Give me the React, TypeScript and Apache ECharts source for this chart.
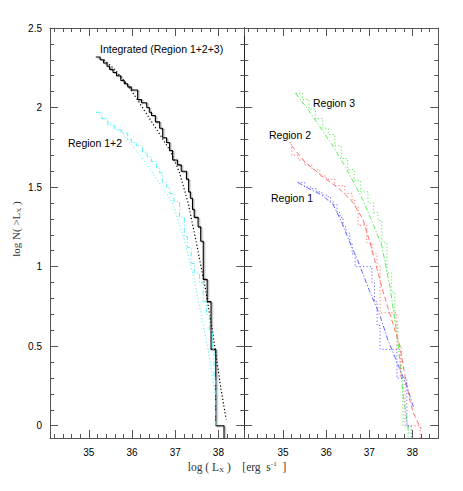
import React, { useEffect, useRef } from 'react';
import * as echarts from 'echarts';

// ---------- data (log L_X, log N(>L_X)) ----------
// Left panel: integrated (Region 1+2+3) cumulative distribution (step) and its fit
const intStepX = [35.16, 35.26, 35.34, 35.42, 35.48, 35.56, 35.64, 35.74, 35.82, 35.90, 35.98, 36.13, 36.22, 36.34, 36.40, 36.45, 36.54, 36.64, 36.71, 36.80, 36.87, 36.94, 37.05, 37.14, 37.26, 37.31, 37.35, 37.40, 37.44, 37.53, 37.59, 37.65, 37.74, 37.83, 37.94, 38.13];
const intStepY = [2.318, 2.30, 2.28, 2.26, 2.24, 2.22, 2.20, 2.17, 2.15, 2.13, 2.11, 2.05, 2.03, 2.00, 1.97, 1.95, 1.91, 1.87, 1.81, 1.78, 1.73, 1.67, 1.64, 1.60, 1.55, 1.47, 1.43, 1.36, 1.31, 1.25, 1.16, 0.92, 0.78, 0.48, 0.00, -1];
const intFitX = [35.35, 35.6, 35.9, 36.1, 36.36, 36.6, 36.9, 37.1, 37.3, 37.49, 37.7, 37.86, 38.06, 38.18];
const intFitY = [2.30, 2.24, 2.14, 2.06, 1.95, 1.85, 1.72, 1.59, 1.40, 1.15, 0.86, 0.60, 0.23, 0.04];

// Left panel: Region 1+2
const r12StepX = [35.16, 35.30, 35.44, 35.60, 35.76, 35.90, 35.99, 36.10, 36.24, 36.35, 36.45, 36.57, 36.64, 36.70, 36.80, 36.87, 36.97, 37.10, 37.21, 37.28, 37.37, 37.44, 37.56, 37.65, 37.72, 37.79, 37.86, 37.90, 37.94];
const r12StepY = [1.97, 1.93, 1.89, 1.86, 1.84, 1.80, 1.78, 1.76, 1.72, 1.69, 1.66, 1.62, 1.59, 1.53, 1.50, 1.46, 1.41, 1.31, 1.19, 1.12, 1.02, 0.96, 0.90, 0.78, 0.70, 0.60, 0.48, 0.30, 0.00];
const r12FitX = [35.18, 35.5, 35.8, 36.1, 36.4, 36.7, 36.94, 37.21, 37.44, 37.6, 37.75, 37.86, 37.92];
const r12FitY = [1.97, 1.90, 1.83, 1.73, 1.62, 1.50, 1.40, 1.17, 0.92, 0.70, 0.50, 0.31, 0.20];

// Right panel: Region 3
const r3StepX = [35.29, 35.45, 35.60, 35.75, 35.92, 36.05, 36.20, 36.35, 36.50, 36.65, 36.80, 36.97, 37.10, 37.20, 37.29, 37.41, 37.52, 37.59, 37.66, 37.75, 37.78, 37.90];
const r3StepY = [2.09, 2.05, 1.99, 1.93, 1.87, 1.83, 1.76, 1.68, 1.61, 1.54, 1.47, 1.40, 1.34, 1.29, 1.15, 0.96, 0.84, 0.65, 0.50, 0.30, 0.00, -1];
const r3FitX = [35.29, 35.6, 35.9, 36.2, 36.5, 36.85, 37.1, 37.29, 37.48, 37.66, 37.78, 37.92];
const r3FitY = [2.09, 1.98, 1.86, 1.74, 1.60, 1.42, 1.26, 1.13, 0.87, 0.54, 0.20, -0.05];

// Right panel: Region 2
const r2StepX = [35.15, 35.20, 35.35, 35.50, 35.67, 35.85, 36.00, 36.20, 36.43, 36.60, 36.66, 36.74, 36.94, 37.06, 37.18, 37.25, 37.64, 37.72, 37.83, 38.18];
const r2StepY = [1.78, 1.70, 1.67, 1.64, 1.61, 1.57, 1.55, 1.51, 1.46, 1.42, 1.38, 1.26, 1.15, 1.08, 1.00, 0.71, 0.48, 0.30, 0.00, -1];
const r2FitX = [35.2, 35.5, 35.9, 36.3, 36.6, 36.85, 37.06, 37.29, 37.48, 37.71, 37.83, 37.94, 38.02, 38.2];
const r2FitY = [1.76, 1.66, 1.57, 1.49, 1.41, 1.30, 1.11, 0.87, 0.70, 0.50, 0.31, 0.16, 0.08, -0.02];

// Right panel: Region 1
const r1StepX = [35.34, 35.50, 35.65, 35.78, 35.90, 36.01, 36.10, 36.16, 36.25, 36.32, 36.39, 36.46, 36.55, 36.60, 36.67, 37.06, 37.12, 37.18, 37.25, 37.64, 37.87, 37.97];
const r1StepY = [1.53, 1.50, 1.49, 1.47, 1.45, 1.44, 1.41, 1.39, 1.34, 1.31, 1.25, 1.21, 1.15, 1.08, 1.00, 0.90, 0.78, 0.63, 0.48, 0.30, 0.00, -1];
const r1FitX = [35.34, 35.6, 35.9, 36.16, 36.36, 36.55, 36.73, 37.0, 37.25, 37.43, 37.64, 37.87, 38.02];
const r1FitY = [1.53, 1.49, 1.45, 1.39, 1.28, 1.15, 1.04, 0.85, 0.69, 0.54, 0.40, 0.25, 0.12];

const xLimits = [34.1, 38.6];
const yLimits = [-0.077, 2.5];

const zip = (xs: number[], ys: number[]) => xs.map((x, i) => [x, ys[i]]);

const SANS = '"Liberation Sans", Arial, Helvetica, sans-serif';
const SERIF = '"Liberation Serif", "DejaVu Serif", "Times New Roman", serif';
const AXIS = '#555';

function makeX(gridIndex: number, position: string, labels: boolean) {
  return {
    type: 'value',
    gridIndex,
    position,
    min: xLimits[0],
    max: xLimits[1],
    splitNumber: 5,
    minInterval: 1,
    maxInterval: 1,
    axisLine: { show: true, onZero: false, lineStyle: { color: AXIS, width: 1 } },
    axisTick: { show: true, inside: true, length: 8, lineStyle: { color: AXIS, width: 1 } },
    minorTick: { show: true, splitNumber: 5, length: 4, lineStyle: { color: AXIS, width: 1 } },
    splitLine: { show: false },
    minorSplitLine: { show: false },
    axisLabel: {
      show: labels,
      margin: 9,
      color: '#000',
      fontSize: 10,
      fontFamily: SANS,
      formatter: (v: number) => (Math.abs(v - Math.round(v)) < 1e-6 ? String(Math.round(v)) : ''),
    },
  };
}

function makeY(gridIndex: number, position: string, labels: boolean, lineColor = AXIS) {
  return {
    type: 'value',
    gridIndex,
    position,
    min: yLimits[0],
    max: yLimits[1],
    splitNumber: 5,
    minInterval: 0.5,
    maxInterval: 0.5,
    axisLine: { show: true, onZero: false, lineStyle: { color: lineColor, width: 1 } },
    axisTick: { show: true, inside: true, length: 8, lineStyle: { color: AXIS, width: 1 } },
    minorTick: { show: true, splitNumber: 5, length: 4, lineStyle: { color: AXIS, width: 1 } },
    splitLine: { show: false },
    minorSplitLine: { show: false },
    axisLabel: {
      show: labels,
      margin: 8,
      color: '#000',
      fontSize: 10,
      fontFamily: SANS,
      formatter: (v: number) =>
        Math.abs(v * 2 - Math.round(v * 2)) < 1e-6 ? String(Math.round(v * 2) / 2) : '',
    },
  };
}

function line(name: string, data: number[][], axis: number, color: string, type: any, width: number, step: any, extra: any = {}) {
  return {
    name,
    type: 'line',
    xAxisIndex: axis,
    yAxisIndex: axis,
    data,
    step,
    symbol: 'none',
    clip: true,
    silent: true,
    lineStyle: { color, width, type, ...extra },
  };
}

const DOT = [1.2, 2.2];
const DASHDOT = [5, 2, 1.2, 2];
const DASH = [5, 3];

const CYAN = '#55f2fa';
const GREEN = '#55ee55';
const RED = '#ff7272';
const BLUE = '#6464ff';

export default function App() {
  const ref = useRef<HTMLDivElement>(null);
  useEffect(() => {
    if (!ref.current) return;
    const chart = echarts.init(ref.current, undefined, { renderer: 'svg' });
    const textStyle = (text: string, x: number, y: number) => ({
      type: 'text',
      x,
      y,
      style: { text, fill: '#000', font: `10.5px ${SANS}`, align: 'left', verticalAlign: 'middle' },
    });
    chart.setOption({
      animation: false,
      backgroundColor: '#fff',
      grid: [
        { left: 50, top: 28, width: 194.3, height: 410, show: false },
        { left: 244.3, top: 28, width: 194, height: 410, show: false },
      ],
      xAxis: [makeX(0, 'bottom', true), makeX(0, 'top', false), makeX(1, 'bottom', true), makeX(1, 'top', false)],
      yAxis: [makeY(0, 'left', true), makeY(0, 'right', false, '#222'), makeY(1, 'left', false, '#222'), makeY(1, 'right', false)],
      series: [
        line('Integrated', zip(intStepX, intStepY), 0, '#000', 'solid', 1.1, 'end', {
          shadowColor: 'rgba(0,0,0,0.35)', shadowBlur: 0.5, shadowOffsetX: 1.3, shadowOffsetY: 1,
        }),
        line('Integrated fit', zip(intFitX, intFitY), 0, '#000', DOT, 1.2, false),
        line('Region 1+2', zip(r12StepX, r12StepY), 0, CYAN, DASHDOT, 1, 'end'),
        line('Region 1+2 fit', zip(r12FitX, r12FitY), 0, CYAN, DOT, 1, false),
        line('Region 3', zip(r3StepX, r3StepY), 2, GREEN, DOT, 1, 'end'),
        line('Region 3 fit', zip(r3FitX, r3FitY), 2, GREEN, DASHDOT, 1, false),
        line('Region 2', zip(r2StepX, r2StepY), 2, RED, DOT, 1, 'end'),
        line('Region 2 fit', zip(r2FitX, r2FitY), 2, RED, DASH, 1, false),
        line('Region 1', zip(r1StepX, r1StepY), 2, BLUE, DOT, 1, 'end'),
        line('Region 1 fit', zip(r1FitX, r1FitY), 2, BLUE, DASHDOT, 1, false),
      ],
      graphic: [
        textStyle('Integrated (Region 1+2+3)', 100, 49),
        textStyle('Region 1+2', 68, 143),
        textStyle('Region 3', 313, 103),
        textStyle('Region 2', 269, 135),
        textStyle('Region 1', 271, 198),
        {
          type: 'text',
          x: 16,
          y: 229,
          rotation: Math.PI / 2,
          style: {
            text: '{a|log N( >L}{b|X}{a| )}',
            align: 'center',
            verticalAlign: 'middle',
            rich: {
              a: { fontFamily: SERIF, fontSize: 11, fill: '#333', lineHeight: 13 },
              b: { fontFamily: SERIF, fontSize: 7, fill: '#333', verticalAlign: 'bottom', lineHeight: 8 },
            },
          },
        },
        {
          type: 'text',
          x: 237,
          y: 467,
          style: {
            text: '{a|log ( L}{b|X}{a| )    [erg  s}{c|-1}{a|  ]}',
            align: 'center',
            verticalAlign: 'middle',
            rich: {
              a: { fontFamily: SERIF, fontSize: 11.5, fill: '#333', lineHeight: 13 },
              b: { fontFamily: SERIF, fontSize: 7, fill: '#333', verticalAlign: 'bottom', lineHeight: 8 },
              c: { fontFamily: SERIF, fontSize: 7, fill: '#333', verticalAlign: 'top', lineHeight: 8 },
            },
          },
        },
      ],
    });
    return () => chart.dispose();
  }, []);
  return (
    <div
      ref={ref}
      style={{ position: 'absolute', left: 0, top: 0, width: 463, height: 491, background: '#fff' }}
    />
  );
}
